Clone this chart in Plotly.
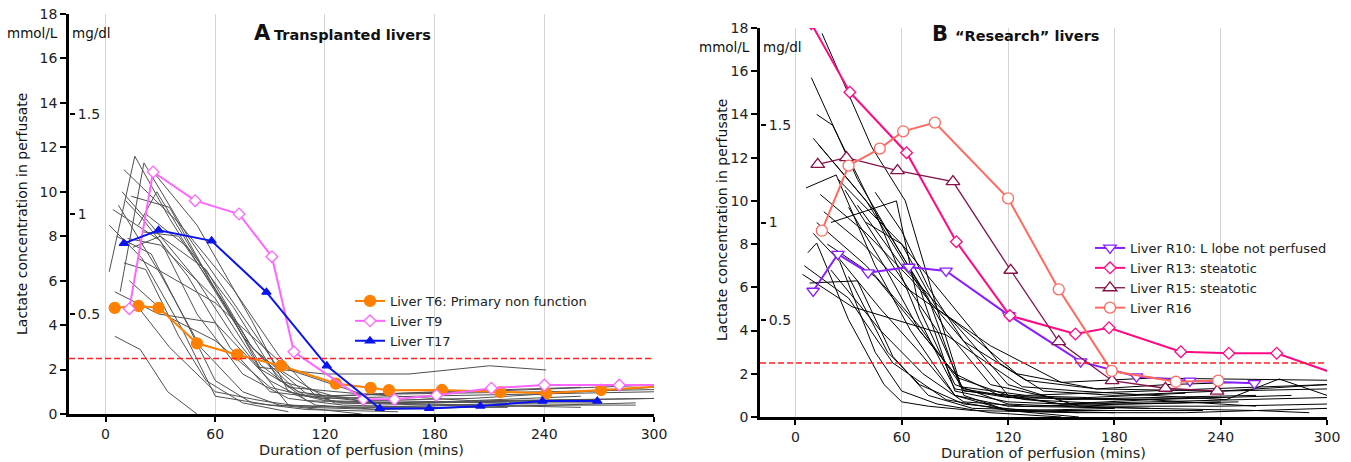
import plotly.graph_objects as go

# ---------------- data ----------------
X_TICKS = [0, 60, 120, 180, 240, 300]
Y_TICKS = [0, 2, 4, 6, 8, 10, 12, 14, 16, 18]
MGDL_TICKS = [0.5, 1, 1.5]
THRESHOLD = 2.5

# Panel A highlighted livers
t6_x = [5, 18, 29, 50, 72, 96, 126, 145, 155, 184, 216, 241, 271, 315]
t6_y = [4.78, 4.86, 4.78, 3.18, 2.67, 2.17, 1.37, 1.18, 1.07, 1.08, 0.98, 0.93, 1.08, 1.3]
t9_x = [13, 26, 49, 73, 91, 103, 141, 158, 181, 211, 240, 281, 310]
t9_y = [4.74, 10.89, 9.6, 9.0, 7.08, 2.8, 0.66, 0.66, 0.84, 1.16, 1.3, 1.3, 1.3]
t17_x = [10, 29, 58, 88, 121, 150, 177, 205, 239, 269]
t17_y = [7.68, 8.27, 7.79, 5.48, 2.17, 0.25, 0.25, 0.36, 0.58, 0.58]

# Panel A other livers (grey)
a_lines_x = [
    [2, 16, 35, 60, 85, 110, 150, 210, 300],
    [8, 21, 45, 70, 95, 125, 180, 240],
    [10, 40, 70, 95, 115, 150, 200, 260],
    [4, 30, 50, 75, 100, 130, 180],
    [11, 20, 45, 68, 90, 120, 170, 240, 300],
    [5, 19, 34, 50],
    [12, 30, 60, 84, 120, 166, 210, 241],
    [5, 29, 60, 90, 115, 150],
    [14, 35, 58, 80, 105, 140, 200, 300],
    [18, 28, 50, 75, 100, 140, 200, 300],
    [6, 25, 45, 60, 80, 110, 160],
    [10, 22, 40, 55, 75, 100],
    [15, 30, 55, 80, 110, 150, 220, 270],
    [9, 25, 50, 70, 100, 140, 220],
    [20, 40, 65, 85, 110, 160, 240, 300],
    [13, 36, 60, 90, 120, 170, 230, 300],
    [2, 20, 42, 60, 90, 130, 200, 290],
    [22, 45, 70, 95, 125, 180, 260],
    [16, 35, 60, 85, 110, 150, 200, 290],
    [25, 50, 80, 100, 130, 180, 240],
    [7, 30, 52, 75, 95, 140],
    [18, 60, 100, 140, 200, 260],
]
a_lines_y = [
    [6.4, 11.6, 8.8, 5.5, 2.2, 0.6, 0.5, 0.6, 0.7],
    [5.5, 11.3, 8.0, 5.0, 2.0, 0.5, 0.4, 0.5],
    [11.0, 8.6, 5.6, 2.6, 0.8, 0.5, 0.4, 0.3],
    [9.2, 7.8, 4.5, 1.8, 0.7, 0.4, 0.3],
    [9.6, 8.8, 6.2, 3.0, 1.0, 0.7, 0.8, 0.9, 1.0],
    [3.5, 2.9, 1.0, 0.0],
    [7.9, 7.6, 5.2, 2.1, 1.8, 1.8, 2.17, 1.98],
    [5.5, 4.5, 4.1, 1.5, 0.4, 0.2],
    [9.8, 9.3, 5.9, 3.0, 1.0, 0.6, 0.7, 1.2],
    [8.5, 10.0, 7.0, 3.5, 1.2, 0.9, 1.0, 1.3],
    [8.0, 7.2, 4.0, 1.5, 0.5, 0.2, 0.1],
    [6.8, 6.5, 3.5, 1.5, 0.5, 0.1],
    [7.5, 8.0, 6.5, 3.0, 0.9, 0.6, 0.5, 0.5],
    [10.0, 8.5, 6.0, 3.5, 0.4, 0.3, 0.3],
    [8.2, 8.0, 5.0, 2.0, 0.8, 0.9, 1.0, 1.1],
    [6.0, 4.3, 3.3, 1.2, 0.6, 0.5, 0.6, 0.7],
    [8.5, 7.0, 3.8, 0.8, 0.4, 0.3, 0.4, 0.4],
    [9.0, 7.5, 4.8, 1.5, 0.8, 1.0, 1.2],
    [5.0, 3.0, 1.0, 0.6, 0.3, 0.2, 0.3, 0.5],
    [11.0, 8.5, 4.2, 1.0, 0.5, 0.5, 0.6],
    [9.4, 6.3, 3.0, 1.0, 0.4, 0.0],
    [7.0, 5.0, 2.0, 0.9, 0.6, 0.8],
]

# Panel B highlighted livers
r10_x = [10, 24, 41, 64, 85, 120.5, 161, 192.5, 222.6, 259]
r10_y = [5.83, 7.54, 6.68, 6.94, 6.76, 4.7, 2.56, 1.87, 1.67, 1.56]
r13_x = [9, 30.7, 62.7, 90.8, 121, 158, 177, 217.5, 244.6, 271.6, 310]
r13_y = [18.2, 15.03, 12.23, 8.11, 4.69, 3.84, 4.13, 3.02, 2.95, 2.95, 1.85]
r15_x = [12.6, 28.8, 57.6, 88.9, 121.5, 148.6, 178.7, 208.8, 238]
r15_y = [11.69, 12.0, 11.4, 10.89, 6.79, 3.49, 1.68, 1.33, 1.2]
r16_x = [14.9, 30, 47.6, 60.8, 78.7, 120, 148.6, 178.5, 214.7, 238.6]
r16_y = [8.62, 11.63, 12.42, 13.22, 13.62, 10.12, 5.91, 2.13, 1.63, 1.68]

# Panel B other livers (black)
b_lines_x = [
    [15, 43, 62, 80, 95, 120, 180],
    [9, 35, 60, 85, 110, 150, 200, 260],
    [12, 21, 45, 70, 90, 120, 180, 240],
    [10, 40, 70, 90, 120, 180, 240, 300],
    [13, 45, 75, 93, 130, 200, 300],
    [6, 23, 45, 65, 90, 120, 200],
    [20, 57, 70, 90, 120, 180],
    [4, 32, 85, 128, 160, 200, 243, 273, 300],
    [7, 12, 30, 50, 60, 75, 100, 160],
    [10, 25, 45, 60, 80, 110, 150],
    [12, 40, 70, 95, 130, 180, 240],
    [24, 60, 90, 115, 140, 180, 240, 300],
    [8, 35, 55, 75, 100, 150, 230],
    [20, 48, 72, 95, 130, 190, 250],
    [28, 55, 80, 95, 135, 200, 280],
    [16, 38, 62, 90, 125, 170, 240, 300],
    [35, 60, 88, 120, 160, 200, 260, 290],
    [5, 30, 55, 85, 120, 160],
    [18, 45, 65, 90, 115, 150, 200, 260],
    [30, 50, 70, 92, 120, 165, 220],
    [14, 40, 65, 95, 130, 170, 210, 250],
    [40, 60, 80, 110, 150, 200, 300],
    [22, 48, 70, 90, 120, 160, 220, 300],
    [30, 52, 70, 95, 130, 180],
    [45, 60, 75, 95, 120, 150, 200, 300],
]
b_lines_y = [
    [17.75, 12.5, 10.0, 5.0, 1.0, 0.3, 0.2],
    [15.7, 11.0, 7.5, 4.0, 1.5, 0.8, 0.9, 1.0],
    [14.0, 13.5, 9.5, 4.5, 1.3, 0.9, 0.8, 0.9],
    [12.9, 10.0, 6.0, 1.2, 0.7, 0.5, 0.5, 0.6],
    [12.6, 9.5, 5.5, 1.4, 1.0, 1.2, 1.5],
    [10.6, 11.2, 7.0, 4.0, 1.0, 0.5, 0.4],
    [9.0, 10.0, 5.0, 1.5, 0.6, 0.4],
    [6.6, 5.1, 3.8, 1.4, 1.2, 1.0, 0.8, 1.76, 1.0],
    [7.6, 8.05, 4.5, 1.5, 0.7, 0.5, 0.3, 0.2],
    [8.5, 7.2, 3.0, 1.2, 0.6, 0.2, 0.0],
    [9.0, 7.0, 4.2, 1.3, 0.8, 0.6, 0.7],
    [11.0, 8.0, 5.0, 2.5, 1.2, 1.0, 1.2, 1.5],
    [6.2, 6.3, 2.8, 1.0, 0.4, 0.3, 0.3],
    [6.8, 4.0, 2.0, 0.7, 0.5, 0.6, 0.7],
    [10.5, 7.0, 4.0, 1.2, 0.9, 0.8, 1.0],
    [9.5, 8.0, 6.0, 4.4, 2.0, 1.3, 1.2, 1.3],
    [9.8, 7.0, 4.5, 1.5, 0.5, 0.4, 0.3, 0.2],
    [7.0, 5.5, 2.5, 0.8, 0.3, 0.0],
    [8.0, 6.5, 4.5, 2.0, 1.0, 0.6, 0.8, 0.5],
    [9.7, 7.0, 4.0, 1.8, 1.0, 0.9, 1.1],
    [10.3, 8.5, 6.4, 3.5, 1.7, 1.3, 1.5, 1.6],
    [9.0, 8.0, 5.0, 3.3, 1.6, 1.8, 1.7],
    [7.6, 5.0, 3.0, 1.0, 0.3, 0.2, 0.2, 0.4],
    [6.5, 3.0, 1.5, 0.6, 0.3, 0.4],
    [10.4, 8.6, 6.0, 3.5, 1.0, 0.6, 0.7, 0.9],
]

# ---------------- figure ----------------
FONT = "DejaVu Sans"
W, H = 1351, 462
fig = go.Figure()

for xs, ys in zip(a_lines_x, a_lines_y):
    fig.add_trace(go.Scatter(x=xs, y=ys, mode="lines", xaxis="x", yaxis="y",
                             line=dict(color="#505050", width=1), showlegend=False,
                             hoverinfo="skip"))
for xs, ys in zip(b_lines_x, b_lines_y):
    fig.add_trace(go.Scatter(x=xs, y=ys, mode="lines", xaxis="x2", yaxis="y2",
                             line=dict(color="#000000", width=1), showlegend=False,
                             hoverinfo="skip"))

def hl(x, y, name, color, symbol, size, fill, xa, ya, legend, lw=2):
    fig.add_trace(go.Scatter(
        x=x, y=y, name=name, mode="lines+markers", xaxis=xa, yaxis=ya, legend=legend,
        line=dict(color=color, width=lw),
        marker=dict(symbol=symbol, size=size, color=fill, line=dict(color=color, width=1.3))))

hl(t6_x, t6_y, "Liver T6: Primary non function", "#FF8000", "circle", 11, "#FF8000", "x", "y", "legend")
hl(t9_x, t9_y, "Liver T9", "#FF66FF", "diamond", 9, "white", "x", "y", "legend")
hl(t17_x, t17_y, "Liver T17", "#0A14F0", "triangle-up", 8, "#0A14F0", "x", "y", "legend")

hl(r10_x, r10_y, "Liver R10: L lobe not perfused", "#8A1CFF", "triangle-down", 11, "white", "x2", "y2", "legend2")
hl(r13_x, r13_y, "Liver R13: steatotic", "#FF0A84", "diamond", 9, "white", "x2", "y2", "legend2")
hl(r15_x, r15_y, "Liver R15: steatotic", "#85104A", "triangle-up", 12, "white", "x2", "y2", "legend2", lw=1.3)
hl(r16_x, r16_y, "Liver R16", "#FF6A60", "circle", 11, "white", "x2", "y2", "legend2")

# dummy traces so the mg/dl axes render
fig.add_trace(go.Scatter(x=[None], y=[None], xaxis="x", yaxis="y3", showlegend=False))
fig.add_trace(go.Scatter(x=[None], y=[None], xaxis="x2", yaxis="y4", showlegend=False))

dA_x = [69 / W, 654 / W]
dA_y = [48 / H, 448 / H]
dB_x = [760 / W, 1327 / W]
dB_y = [45 / H, 434 / H]

tickfont = dict(family=FONT, size=14, color="#222222")

def xax(domain, anchor):
    return dict(domain=domain, anchor=anchor, range=[-20, 300], tickvals=X_TICKS,
                automargin=False,
                showgrid=True, gridcolor="#d4d4d4", gridwidth=1, zeroline=False,
                showline=True, linecolor="black", linewidth=2.5,
                ticks="outside", ticklen=5, tickwidth=2, tickcolor="black",
                tickfont=tickfont,
                title=dict(text="Duration of perfusion (mins)", standoff=4,
                           font=dict(family=FONT, size=14.5, color="#222222")))

def yax(domain, anchor):
    return dict(domain=domain, anchor=anchor, range=[0, 18], tickvals=Y_TICKS,
                automargin=False,
                showgrid=False, zeroline=False, showline=True, linecolor="black",
                linewidth=2.5, ticks="outside", ticklen=6, tickwidth=2, tickcolor="black",
                tickfont=tickfont)

def y2ax(over, pos):
    return dict(overlaying=over, anchor="free", position=pos, side="right",
                automargin=False,
                range=[0, 2], tickvals=MGDL_TICKS, ticktext=["0.5", "1", "1.5"],
                showgrid=False, zeroline=False, showline=False,
                ticks="outside", ticklen=5, tickwidth=2, tickcolor="black",
                tickfont=tickfont)

fig.update_layout(
    width=W, height=H, margin=dict(l=0, r=0, t=0, b=0, autoexpand=False),
    paper_bgcolor="white", plot_bgcolor="white",
    font=dict(family=FONT, color="#222222"),
    xaxis=xax(dA_x, "y"), yaxis=yax(dA_y, "x"),
    xaxis2=xax(dB_x, "y2"), yaxis2=yax(dB_y, "x2"),
    yaxis3=y2ax("y", dA_x[0]), yaxis4=y2ax("y2", dB_x[0]),
    legend=dict(x=350 / W, y=(H - 286) / H, xanchor="left", yanchor="top",
                bgcolor="rgba(0,0,0,0)", font=dict(family=FONT, size=13, color="#222222")),
    legend2=dict(x=1090 / W, y=(H - 233) / H, xanchor="left", yanchor="top",
                 bgcolor="rgba(0,0,0,0)", font=dict(family=FONT, size=13, color="#222222")),
    showlegend=True,
)

for xr, yr in (("x", "y"), ("x2", "y2")):
    fig.add_shape(type="line", xref=f"{xr} domain", x0=0, x1=1, yref=yr,
                  y0=THRESHOLD, y1=THRESHOLD, line=dict(color="#FF2020", width=1.5, dash="6px,3px"))

def ann(text, x, y, size=13, bold=False, angle=0, xanchor="center"):
    fig.add_annotation(text=f"<b>{text}</b>" if bold else text, x=x / W, y=(H - y) / H,
                       xref="paper", yref="paper", showarrow=False, xanchor=xanchor,
                       yanchor="middle", textangle=angle,
                       font=dict(family=FONT, size=size, color="#111111"))

ann("A", 262, 33, size=21, bold=True)
ann("Transplanted livers", 272, 35, size=14.5, bold=True, xanchor="left")
ann("B", 940, 34, size=21, bold=True)
ann("\u201cResearch\u201d livers", 953, 36, size=14.5, bold=True, xanchor="left")
ann("mmol/L", 32, 33, size=13.5)
ann("mg/dl", 91, 33, size=13.5)
ann("mmol/L", 724, 47, size=13.5)
ann("mg/dl", 782, 47, size=13.5)
ann("Lactate concentration in perfusate", 22, 214, size=14, angle=-90)
ann("Lactate concentration in perfusate", 722, 220, size=14, angle=-90)

fig.write_html("out.html", config={"displayModeBar": False},
               post_script="document.body.style.margin='0px';")
